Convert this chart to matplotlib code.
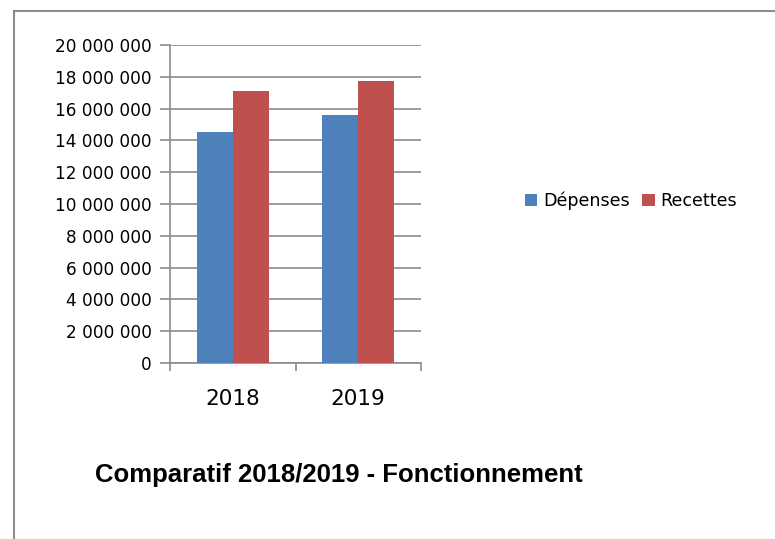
import matplotlib.pyplot as plt
from matplotlib.lines import Line2D
import numpy as np

# data
years = ['2018', '2019']
depenses = [14.55e6, 15.6e6]
recettes = [17.1e6, 17.75e6]
yticks = np.arange(0, 20e6 + 1, 2e6)

W, H = 775, 539
fig = plt.figure(figsize=(W / 100, H / 100), dpi=100)

# outer frame (only top and left are visible in the crop)
fig.add_artist(Line2D([14 / W, 14 / W], [0, 1 - 11 / H], color='#8c8c8c', lw=1.5))
fig.add_artist(Line2D([14 / W, 1], [1 - 11 / H, 1 - 11 / H], color='#8c8c8c', lw=1.5))

x0, x1, ytop, ybot = 170, 421, 45, 363
ax = fig.add_axes([x0 / W, 1 - ybot / H, (x1 - x0) / W, (ybot - ytop) / H])

x = np.arange(len(years))
bw = 1 / 3.5
ax.bar(x - bw / 2, depenses, bw, color='#4f81bd', label='Dépenses', zorder=3)
ax.bar(x + bw / 2, recettes, bw, color='#c0504d', label='Recettes', zorder=3)

ax.set_xlim(-0.5, len(years) - 0.5)
ax.set_ylim(0, 20e6)
ax.set_yticks(yticks)
ax.set_yticklabels(['{:,.0f}'.format(v).replace(',', ' ') for v in yticks],
                   fontsize=12.2)
ax.yaxis.grid(True, color='#8c8c8c', lw=1.2, zorder=0)
ax.tick_params(axis='y', length=7, color='#8c8c8c', width=1.2, pad=6)

# category ticks at boundaries, labels centred
ax.set_xticks([-0.5, 0.5, 1.5])
ax.set_xticklabels([])
ax.set_xticks(x, minor=True)
ax.set_xticklabels(years, minor=True, fontsize=15.5)
ax.tick_params(axis='x', which='major', length=6, color='#8c8c8c', width=1.2)
ax.tick_params(axis='x', which='minor', length=0, pad=19)

for s in ['top', 'right']:
    ax.spines[s].set_visible(False)
for s in ['left', 'bottom']:
    ax.spines[s].set_color('#8c8c8c')
    ax.spines[s].set_linewidth(1.2)

fig.legend(loc='center left', bbox_to_anchor=(525 / W, 1 - 201 / H), ncol=2,
           frameon=False, borderpad=0, borderaxespad=0,
           handlelength=0.7, handleheight=0.7, handletextpad=0.35,
           columnspacing=0.7, prop={'size': 12.6})

fig.text(95 / W, 1 - 482 / H, 'Comparatif 2018/2019 - Fonctionnement',
         fontsize=18.5, fontweight='bold', family='Liberation Sans', va='baseline')

fig.savefig('out.png', dpi=100)
